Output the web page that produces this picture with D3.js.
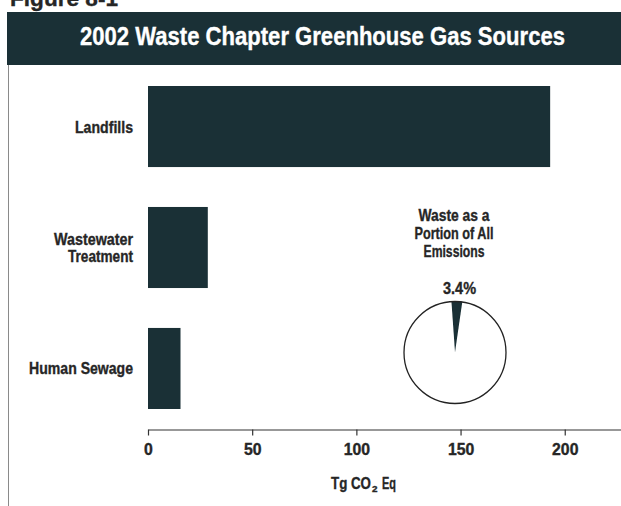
<!DOCTYPE html>
<html>
<head>
<meta charset="utf-8">
<script src="https://cdn.jsdelivr.net/npm/d3@7"></script>
<style>
  html, body { margin: 0; padding: 0; background: #fff; }
  svg { display: block; }
  text { font-family: "Liberation Sans", Arial, sans-serif; font-weight: bold; }
</style>
</head>
<body>
<svg id="chart" width="621" height="506"></svg>
<script>
// Waste sector sources, 2002 (Tg CO2 Eq)
const categories = ["Landfills", "Wastewater Treatment", "Human Sewage"];
const categoryLines = [["Landfills"], ["Wastewater", "Treatment"], ["Human Sewage"]];
const values = [193.0, 28.7, 15.6];
const tickValues = [0, 50, 100, 150, 200];
const tickLabels = ["0", "50", "100", "150", "200"];

// Share of waste in all emissions
const shareLabels = ["Waste", "Other"];
const shareValues = [3.4, 96.6];
const pieTitle = ["Waste as a", "Portion of All", "Emissions"];

const dark = "#1a3036";
const ink = "#262626";

const svg = d3.select("#chart");

// Condensed, heavy bold text: the glyph run is scaled horizontally to a set width
function label(g, x, y, str, size, width, anchor, fill) {
  const c = fill || ink;
  const t = g.append("text")
    .attr("x", 0).attr("y", 0)
    .attr("text-anchor", anchor || "start")
    .attr("font-size", size)
    .attr("fill", c)
    .attr("stroke", c).attr("stroke-width", 0.35)
    .text(str);
  let k = 1;
  if (width) {
    const w0 = t.node().getComputedTextLength();
    if (w0 > 0) k = width / w0;
  }
  t.attr("transform", `translate(${x},${y}) scale(${k},1)`);
  return t;
}

// Figure caption, partly above the frame
label(svg, 10, 5.5, "Figure 8-1", 22, 108);

// Title band
svg.append("rect")
  .attr("x", 7).attr("y", 12).attr("width", 614).attr("height", 53)
  .attr("fill", dark);
label(svg, 322.5, 45, "2002 Waste Chapter Greenhouse Gas Sources", 25, 485, "middle", "#fff");

// Left frame rule
svg.append("line")
  .attr("x1", 8.5).attr("x2", 8.5).attr("y1", 65).attr("y2", 506)
  .attr("stroke", "#8a8a8a").attr("stroke-width", 1);

// Scales
const x = d3.scaleLinear().domain([0, 227]).range([148, 621]);
const y = d3.scaleBand().domain(categories).range([86, 409])
  .paddingInner(0.33).paddingOuter(0);

// Bars
svg.append("g").selectAll("rect")
  .data(categories)
  .join("rect")
  .attr("x", x(0))
  .attr("y", d => y(d))
  .attr("width", (d, i) => x(values[i]) - x(0))
  .attr("height", y.bandwidth())
  .attr("fill", dark);

// Category labels
const labelWidths = { "Landfills": 58, "Wastewater": 79, "Treatment": 65, "Human Sewage": 104 };
const lab = svg.append("g");
categories.forEach((c, i) => {
  const lines = categoryLines[i];
  const cy = y(c) + y.bandwidth() / 2;
  const lh = 17.7;
  const first = cy + 6 - (lines.length - 1) * lh / 2;
  lines.forEach((ln, j) => {
    label(lab, 133, first + j * lh, ln, 16.2, labelWidths[ln], "end");
  });
});

// X axis
const axis = d3.axisBottom(x)
  .tickValues(tickValues)
  .tickFormat((d, i) => tickLabels[i])
  .tickSize(6)
  .tickSizeOuter(0);
const gx = svg.append("g")
  .attr("transform", "translate(0,429.5)")
  .call(axis);
gx.select(".domain").attr("stroke", "#333").attr("stroke-width", 1.2);
gx.selectAll(".tick line").attr("stroke", "#333").attr("stroke-width", 1.2);
gx.selectAll(".tick text")
  .attr("font-family", null)
  .attr("font-size", 15.8)
  .attr("fill", ink)
  .attr("stroke", ink).attr("stroke-width", 0.35)
  .attr("dy", null)
  .attr("y", 25.5);

// Axis title "Tg CO2 Eq": pieces laid out one after another, subscript lowered
const axisTitle = svg.append("g");
const parts = [
  { s: "Tg CO", size: 15.8, dy: 0, w: 40 },
  { s: "2", size: 9.5, dy: 2.5, w: 5.5 },
  { s: "Eq", size: 15.8, dy: 0, w: 14 }
];
const gaps = [0, 1, 4.5];
let cursor = 331;
parts.forEach((p, i) => {
  cursor += gaps[i];
  label(axisTitle, cursor, 489 + p.dy, p.s, p.size, p.w, "start");
  cursor += p.w;
});

// Pie inset
const pcx = 455, pcy = 352.5, pr = 51;
const start = -0.07;
const pie = d3.pie().sort(null).value(d => d)
  .startAngle(start).endAngle(start + 2 * Math.PI);
const arcs = pie(shareValues);
const arc = d3.arc().innerRadius(0).outerRadius(pr);
const pg = svg.append("g").attr("transform", `translate(${pcx},${pcy})`);
pg.selectAll("path")
  .data(arcs)
  .join("path")
  .attr("d", arc)
  .attr("fill", (d, i) => i === 0 ? dark : "#fff")
  .attr("stroke", (d, i) => i === 0 ? dark : "none");
pg.append("circle").attr("r", pr)
  .attr("fill", "none").attr("stroke", "#222").attr("stroke-width", 1.3);

const pieWidths = [71, 79, 61];
pieTitle.forEach((ln, j) => {
  label(svg, 454, 221 + j * 18.2, ln, 16.8, pieWidths[j], "middle");
});
label(svg, 459.5, 293.5, shareValues[0].toFixed(1) + "%", 16.8, 33, "middle");
</script>
</body>
</html>
